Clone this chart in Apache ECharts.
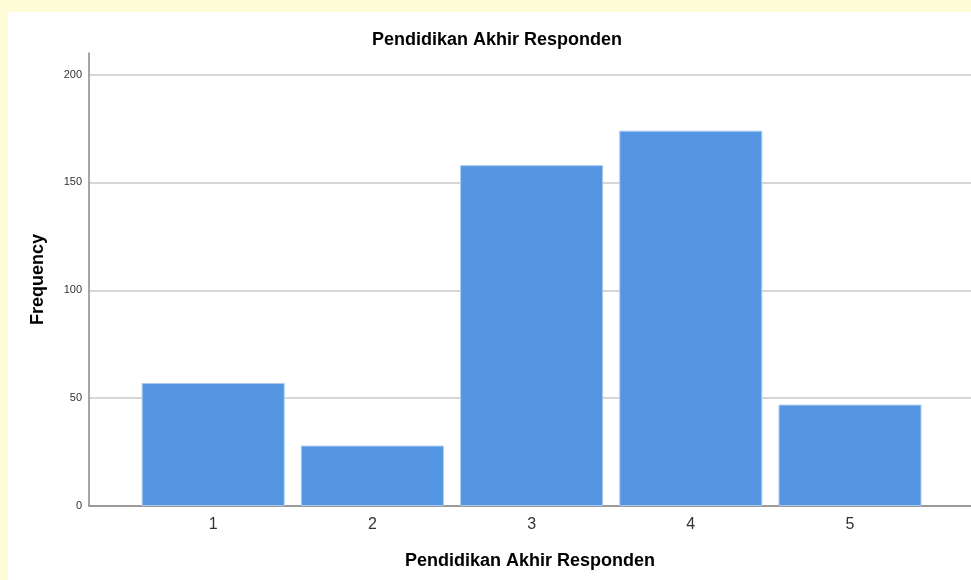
<!DOCTYPE html>
<html><head><meta charset="utf-8">
<script src="https://cdn.jsdelivr.net/npm/echarts@6/dist/echarts.min.js"></script>
<style>html,body{margin:0;padding:0;background:#fff}#c{width:971px;height:580px}</style>
</head><body><div id="c"></div>
<script>
const categories = [1, 2, 3, 4, 5];
const frequency = [57, 28, 158, 174, 47];
const yTicks = [0, 50, 100, 150, 200];
const titleText = 'Pendidikan Akhir Responden';
const xName = 'Pendidikan Akhir Responden';
const yName = 'Frequency';

const chart = echarts.init(document.getElementById('c'));
chart.setOption({
  backgroundColor: '#fffdd8',
  animation: false,
  graphic: [{ type: 'rect', shape: { x: 8, y: 12, width: 963, height: 568 }, style: { fill: '#ffffff' }, z: -10 }],
  title: { text: titleText, left: 367, top: 26,
    textStyle: { fontFamily: 'Liberation Sans, Arial', fontSize: 18, fontWeight: 'bold', color: '#000' } },
  grid: { left: 89, right: 0, top: 53, bottom: 74 },
  xAxis: {
    type: 'value', min: 0.22, max: 5.76,
    name: xName, nameLocation: 'middle', nameGap: 46,
    nameTextStyle: { fontFamily: 'Liberation Sans, Arial', fontSize: 18, fontWeight: 'bold', color: '#000' },
    axisLine: { show: true, lineStyle: { color: '#888', width: 1.5 } },
    axisTick: { show: false },
    splitLine: { show: false },
    axisLabel: { customValues: categories, formatter: v => String(v), margin: 11,
      fontFamily: 'Liberation Sans, Arial', fontSize: 16, color: '#333' }
  },
  yAxis: {
    type: 'value', min: 0, max: 210, interval: 50,
    name: yName, nameLocation: 'middle', nameGap: 42, nameRotate: 90,
    nameTextStyle: { fontFamily: 'Liberation Sans, Arial', fontSize: 18, fontWeight: 'bold', color: '#000' },
    axisLine: { show: true, lineStyle: { color: '#888', width: 1.5 } },
    axisTick: { show: false },
    splitLine: { show: true, showMaxLine: false, lineStyle: { color: '#c8c8c8', width: 1.5 } },
    axisLabel: { customValues: yTicks, margin: 7, fontFamily: 'Liberation Sans, Arial', fontSize: 11, color: '#333' }
  },
  series: [{
    type: 'bar',
    data: categories.map((c, i) => [c, frequency[i]]),
    barWidth: 143,
    itemStyle: { color: '#5596e3', borderColor: '#a9c8ef', borderWidth: 1 }
  }]
});
</script></body></html>
